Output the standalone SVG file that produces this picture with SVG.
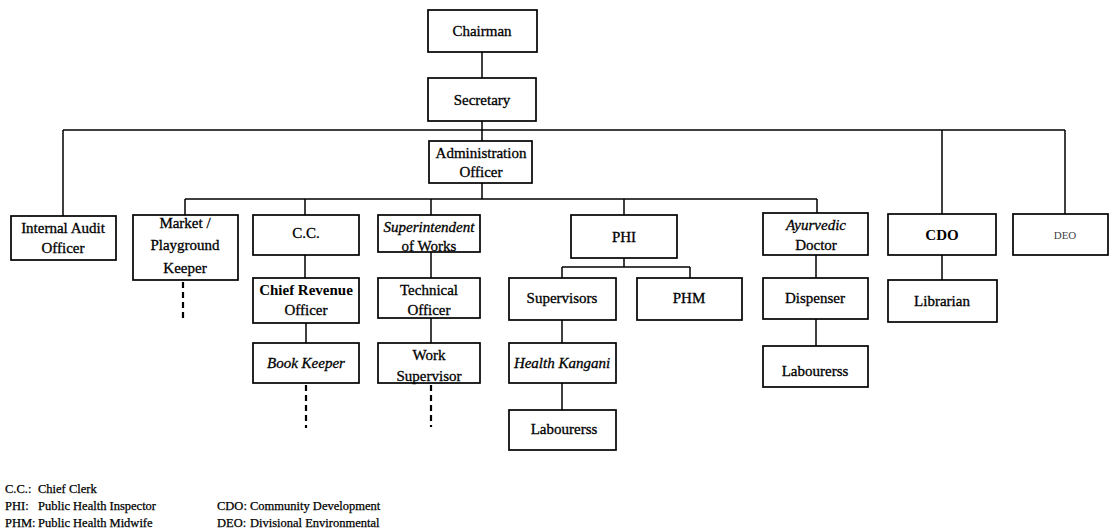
<svg xmlns="http://www.w3.org/2000/svg" width="1110" height="531" viewBox="0 0 1110 531">
<style>
.box{fill:#fff;stroke:#000;stroke-width:1.7}
.t{font-family:"Liberation Serif","Times New Roman",serif;font-size:15px;fill:#000;stroke:#000;stroke-width:0.3;text-anchor:middle}
.i{font-style:italic}
.b{font-weight:bold;stroke-width:0}
.ln{stroke:#000;stroke-width:1.5;fill:none}
.dash{stroke:#000;stroke-width:2.2;stroke-dasharray:6 4;fill:none}
.lg{font-family:"Liberation Serif","Times New Roman",serif;font-size:12.5px;fill:#000;stroke:#000;stroke-width:0.25}
</style>
<rect width="1110" height="531" fill="#fff"/>
<g id="connectors">
<path class="ln" d="M482 52V78M482 121V141M63 130H1065M63 130V216M942 130V214M1065 130V214"/>
<path class="ln" d="M482 183V199M185 199H817M185 199V215M305 199V215M431 199V215M624 199V215M817 199V213"/>
<path class="ln" d="M305 255V278M306 323V343M431 252V278M431 318V343"/>
<path class="ln" d="M624 258V267M562 267H690M562 267V278M690 267V278M562 320V343M562 383V410"/>
<path class="ln" d="M816 255V278M816 319V346M942 255V280"/>
<path class="dash" d="M183 282V322M306 385V428M431 385V427"/>
</g>
<g id="chairman"><rect class="box" x="428" y="10" width="109" height="42"/><text class="t" x="482" y="36">Chairman</text></g>
<g id="secretary"><rect class="box" x="428" y="78" width="108" height="43"/><text class="t" x="482" y="105">Secretary</text></g>
<g id="admin"><rect class="box" x="429" y="141" width="103" height="42"/><text class="t" x="481" y="158">Administration</text><text class="t" x="481" y="177">Officer</text></g>
<g id="internal-audit"><rect class="box" x="11" y="216" width="105" height="44"/><text class="t" x="63" y="233">Internal Audit</text><text class="t" x="63" y="253">Officer</text></g>
<g id="market"><rect class="box" x="133" y="215" width="105" height="65"/><text class="t" x="185" y="228">Market /</text><text class="t" x="185" y="250">Playground</text><text class="t" x="185" y="273">Keeper</text></g>
<g id="cc"><rect class="box" x="253" y="215" width="106" height="40"/><text class="t" x="306" y="238">C.C.</text></g>
<g id="chief-revenue"><rect class="box" x="253" y="278" width="106" height="45"/><text class="t b" x="306" y="295">Chief Revenue</text><text class="t" x="306" y="315">Officer</text></g>
<g id="book-keeper"><rect class="box" x="253" y="343" width="106" height="40"/><text class="t i" x="306" y="368">Book Keeper</text></g>
<g id="superintendent"><rect class="box" x="378" y="215" width="102" height="37"/><text class="t i" x="429" y="232">Superintendent</text><text class="t" x="429" y="251">of Works</text></g>
<g id="technical"><rect class="box" x="378" y="278" width="102" height="40"/><text class="t" x="429" y="295">Technical</text><text class="t" x="429" y="315">Officer</text></g>
<g id="work-supervisor"><rect class="box" x="378" y="343" width="102" height="40"/><text class="t" x="429" y="360">Work</text><text class="t" x="429" y="381">Supervisor</text></g>
<g id="phi"><rect class="box" x="571" y="215" width="106" height="43"/><text class="t" x="624" y="242">PHI</text></g>
<g id="supervisors"><rect class="box" x="509" y="278" width="107" height="42"/><text class="t" x="562" y="303">Supervisors</text></g>
<g id="phm"><rect class="box" x="637" y="278" width="105" height="42"/><text class="t" x="689" y="303">PHM</text></g>
<g id="health-kangani"><rect class="box" x="509" y="343" width="107" height="40"/><text class="t i" x="562" y="368">Health Kangani</text></g>
<g id="labourers-phi"><rect class="box" x="509" y="410" width="107" height="40"/><text class="t" x="564" y="434">Labourerss</text></g>
<g id="ayurvedic"><rect class="box" x="763" y="213" width="105" height="42"/><text class="t i" x="816" y="230">Ayurvedic</text><text class="t" x="816" y="250">Doctor</text></g>
<g id="dispenser"><rect class="box" x="763" y="278" width="105" height="41"/><text class="t" x="815" y="303">Dispenser</text></g>
<g id="labourers-ayur"><rect class="box" x="763" y="346" width="105" height="41"/><text class="t" x="815" y="376">Labourerss</text></g>
<g id="cdo"><rect class="box" x="888" y="214" width="108" height="41"/><text class="t b" x="942" y="240">CDO</text></g>
<g id="librarian"><rect class="box" x="888" y="280" width="109" height="42"/><text class="t" x="942" y="306">Librarian</text></g>
<g id="deo"><rect class="box" x="1013" y="214" width="95" height="41"/><text class="t" x="1065" y="239" style="font-size:11px;fill:#444;stroke-width:0">DEO</text></g>
<g id="legend">
<text class="lg" x="5" y="493">C.C.:</text><text class="lg" x="38" y="493">Chief Clerk</text>
<text class="lg" x="5" y="510">PHI:</text><text class="lg" x="38" y="510">Public Health Inspector</text>
<text class="lg" x="5" y="527">PHM:</text><text class="lg" x="38" y="527">Public Health Midwife</text>
<text class="lg" x="217" y="510">CDO:</text><text class="lg" x="250" y="510">Community Development</text>
<text class="lg" x="217" y="527">DEO:</text><text class="lg" x="250" y="527">Divisional Environmental</text>
</g>
</svg>
